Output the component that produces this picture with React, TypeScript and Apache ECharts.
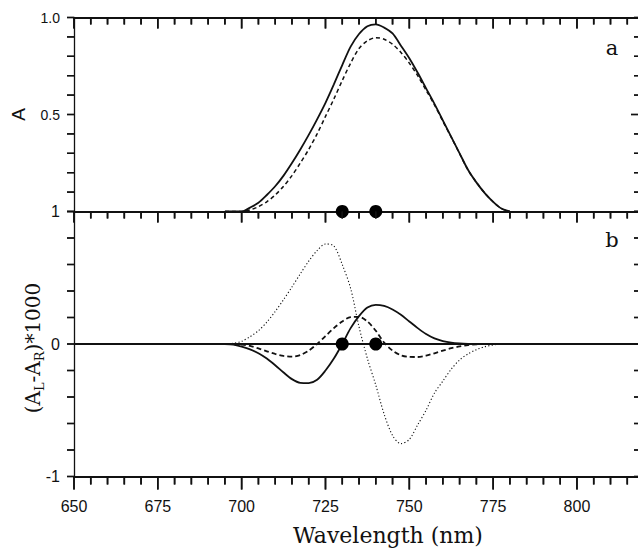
import React, { useEffect, useRef } from "react";
import * as echarts from "echarts";

// Wavelength sampling (nm)
const wavelengths = [
  695, 697.5, 700, 702.5, 705, 707.5, 710, 712.5, 715, 717.5, 720, 722.5, 725, 727.5,
  730, 732.5, 735, 737.5, 740, 742.5, 745, 747.5, 750, 752.5, 755, 757.5, 760, 762.5,
  765, 767.5, 770, 772.5, 775, 777.5, 780,
];

// Panel a: absorbance
const absSolid = [
  0, 0, 0, 0.02, 0.045, 0.085, 0.13, 0.185, 0.25, 0.32, 0.395, 0.475, 0.56, 0.655, 0.755,
  0.85, 0.915, 0.955, 0.965, 0.948, 0.918, 0.855, 0.79, 0.715, 0.635, 0.555, 0.47, 0.385,
  0.3, 0.215, 0.15, 0.095, 0.05, 0.015, 0,
];
const absDashed = [
  0, 0, 0, 0.008, 0.025, 0.05, 0.085, 0.13, 0.185, 0.25, 0.32, 0.4, 0.49, 0.58, 0.675,
  0.765, 0.84, 0.88, 0.896, 0.888, 0.862, 0.82, 0.765, 0.7, 0.625, 0.55, 0.465, 0.383,
  0.298, 0.214, 0.15, 0.095, 0.05, 0.015, 0,
];

// Panel b: (AL-AR)*1000
const cdSolid = [
  0, -0.005, -0.02, -0.04, -0.07, -0.11, -0.16, -0.215, -0.265, -0.293, -0.295, -0.27,
  -0.2, -0.11, 0, 0.12, 0.21, 0.275, 0.296, 0.287, 0.26, 0.22, 0.17, 0.12, 0.075, 0.042,
  0.022, 0.01, 0.004, 0.001, 0, 0, 0, 0, 0,
];
const cdDashed = [
  0, 0, -0.005, -0.015, -0.033, -0.055, -0.075, -0.09, -0.095, -0.083, -0.05, 0, 0.06,
  0.12, 0.17, 0.203, 0.205, 0.17, 0.1, 0.01, -0.05, -0.085, -0.097, -0.098, -0.088, -0.07,
  -0.05, -0.032, -0.018, -0.008, -0.003, 0, 0, 0, 0,
];
const cdDotted = [
  0, 0.005, 0.02, 0.055, 0.1, 0.165, 0.245, 0.335, 0.43, 0.53, 0.625, 0.705, 0.755, 0.74,
  0.6, 0.42, 0.13, -0.11, -0.31, -0.53, -0.69, -0.752, -0.72, -0.61, -0.5, -0.37, -0.28,
  -0.19, -0.12, -0.075, -0.043, -0.02, -0.008, 0, 0,
];

// Marker dots
const markerWavelengths = [730, 740];
const markerValues = [0, 0];

// Axis ranges / ticks
const X_MIN = 650;
const X_MAX = 818.5;
const xTicks = [
  650, 655, 660, 665, 670, 675, 680, 685, 690, 695, 700, 705, 710, 715, 720, 725, 730, 735,
  740, 745, 750, 755, 760, 765, 770, 775, 780, 785, 790, 795, 800, 805, 810, 815,
];
const xLabelEvery = 25;
const panelATicks = [0, 0.1, 0.2, 0.3, 0.4, 0.5, 0.6, 0.7, 0.8, 0.9, 1];
const panelBTicks = [-1, -0.8, -0.6, -0.4, -0.2, 0, 0.2, 0.4, 0.6, 0.8, 1];
const panelALabels: Record<string, string> = { "1": "1.0", "0.5": "0.5" };
const panelBLabels: Record<string, string> = { "1": "1", "0": "0", "-1": "-1" };

const INK = "#111";
const sans = "'Liberation Sans', Arial, sans-serif";
const serif = "'DejaVu Serif', 'Liberation Serif', serif";

// Grid geometry
const PLOT_LEFT = 74;
const PLOT_WIDTH = 565;
const A_TOP = 17.5;
const A_H = 194;
const B_TOP = 211.5;
const B_H = 265;

const pairs = (ys: number[]) => wavelengths.map((w, i) => [w, ys[i]]);
const markerPairs = () => markerWavelengths.map((w, i) => [w, markerValues[i]]);

const xFormatter = (v: number) =>
  Math.abs(v % xLabelEvery) < 1e-6 && v <= 800 ? String(Math.round(v)) : "";
const yLabel = (labels: Record<string, string>) => (v: number) =>
  labels[String(Math.round(v * 10) / 10)] ?? "";
const isMajorX = (w: number) => Math.abs(w % xLabelEvery) < 1e-6;

const hidden = { show: false };
const xLine = { show: true, onZero: false, lineStyle: { color: INK, width: 2.2 } };
const yLine = { show: true, onZero: false, lineStyle: { color: INK, width: 1.3 } };

// Tick marks as scatter symbols (thin rectangles) placed through the axes' scales
function tickSeries(
  xAxisIndex: number,
  yAxisIndex: number,
  items: { value: number[]; size: number[]; offset: number[] }[]
) {
  return {
    type: "scatter",
    xAxisIndex,
    yAxisIndex,
    silent: true,
    clip: false,
    z: 8,
    symbol: "rect",
    itemStyle: { color: INK, opacity: 1 },
    emphasis: { disabled: true },
    data: items.map((it) => ({ value: it.value, symbolSize: it.size, symbolOffset: it.offset })),
  };
}

export default function App() {
  const ref = useRef<HTMLDivElement>(null);

  useEffect(() => {
    if (!ref.current) return;
    const chart = echarts.init(ref.current, undefined, { renderer: "svg" });

    // tick descriptors
    const topA = xTicks.map((w) => {
      const len = isMajorX(w) ? 11 : 7;
      return { value: [w, 1], size: [1.6, len], offset: [0, len / 2] };
    });
    const topB = xTicks.map((w) => {
      const len = isMajorX(w) ? 11 : 7;
      return { value: [w, 1], size: [1.6, len], offset: [0, len / 2] };
    });
    const bottomB = xTicks.map((w) => {
      const len = isMajorX(w) ? 13 : 8;
      return { value: [w, -1], size: [1.6, len], offset: [0, len / 2] };
    });
    const leftA = panelATicks.map((v) => ({ value: [X_MIN, v], size: [7, 1.4], offset: [-3.5, 0] }));
    const rightA = panelATicks.map((v) => {
      const len = Math.abs(v - 0.5) < 1e-6 ? 8 : 5;
      return { value: [X_MAX, v], size: [len, 1.4], offset: [-len / 2, 0] };
    });
    const leftB = panelBTicks.map((v) => ({ value: [X_MIN, v], size: [7, 1.4], offset: [-3.5, 0] }));
    const rightB = panelBTicks.map((v) => ({ value: [X_MAX, v], size: [5, 1.4], offset: [-2.5, 0] }));

    // Same ticks as filled graphic rects (backup rendering path)
    const tickX = (w: number) => PLOT_LEFT + ((w - X_MIN) / (X_MAX - X_MIN)) * PLOT_WIDTH;
    const tickYA = (v: number) => A_TOP + (1 - v) * A_H;
    const tickYB = (v: number) => B_TOP + ((1 - v) / 2) * B_H;
    const rects: any[] = [];
    const rect = (x: number, y: number, width: number, height: number) =>
      rects.push({
        type: "rect",
        silent: true,
        z: 10,
        shape: { x, y, width, height },
        style: { fill: INK },
      });
    xTicks.forEach((w) => {
      const x = tickX(w) - 0.8;
      rect(x, A_TOP, 1.6, isMajorX(w) ? 11 : 7);
      rect(x, B_TOP, 1.6, isMajorX(w) ? 11 : 7);
      rect(x, B_TOP + B_H, 1.6, isMajorX(w) ? 13 : 8);
    });
    panelATicks.forEach((v) => {
      const y = tickYA(v) - 0.7;
      rect(PLOT_LEFT - 7, y, 7, 1.4);
      const len = Math.abs(v - 0.5) < 1e-6 ? 8 : 5;
      rect(PLOT_LEFT + PLOT_WIDTH - len, y, len, 1.4);
    });
    panelBTicks.forEach((v) => {
      const y = tickYB(v) - 0.7;
      rect(PLOT_LEFT - 7, y, 7, 1.4);
      rect(PLOT_LEFT + PLOT_WIDTH - 5, y, 5, 1.4);
    });

    const texts: any[] = [
      {
        type: "text",
        x: 33,
        y: 348,
        rotation: Math.PI / 2,
        style: {
          text: "{n|(A}{s|L}{n|-A}{s|R}{n|)*1000}",
          fill: INK,
          align: "center",
          verticalAlign: "middle",
          rich: {
            n: { fontFamily: serif, fontSize: 20, fill: INK, lineHeight: 26, verticalAlign: "middle" },
            s: { fontFamily: serif, fontSize: 13, fill: INK, lineHeight: 26, verticalAlign: "bottom", padding: [6, 0, 0, 0] },
          },
        },
      },
      {
        type: "text",
        x: 388,
        y: 535,
        style: { text: "Wavelength (nm)", fontFamily: serif, fontSize: 22, fill: INK, align: "center", verticalAlign: "middle" },
      },
      {
        type: "text",
        x: 612,
        y: 48,
        style: { text: "a", fontFamily: serif, fontSize: 21, fill: INK, align: "center", verticalAlign: "middle" },
      },
      {
        type: "text",
        x: 612,
        y: 240,
        style: { text: "b", fontFamily: serif, fontSize: 21, fill: INK, align: "center", verticalAlign: "middle" },
      },
    ];

    const option = {
      animation: false,
      backgroundColor: "#fff",
      grid: [
        { left: PLOT_LEFT, top: A_TOP, width: PLOT_WIDTH, height: A_H, outerBoundsMode: "none", containLabel: false },
        { left: PLOT_LEFT, top: B_TOP, width: PLOT_WIDTH, height: B_H, outerBoundsMode: "none", containLabel: false },
      ],
      xAxis: [
        { type: "value", gridIndex: 0, position: "bottom", min: X_MIN, max: X_MAX, interval: 5, axisLine: xLine, axisTick: hidden, axisLabel: hidden, splitLine: hidden },
        { type: "value", gridIndex: 0, position: "top", min: X_MIN, max: X_MAX, interval: 5, axisLine: xLine, axisTick: hidden, axisLabel: hidden, splitLine: hidden },
        { type: "value", gridIndex: 1, position: "top", min: X_MIN, max: X_MAX, interval: 5, axisLine: xLine, axisTick: hidden, axisLabel: hidden, splitLine: hidden },
        {
          type: "value", gridIndex: 1, position: "bottom", min: X_MIN, max: X_MAX, interval: 5,
          axisLine: xLine, axisTick: hidden,
          axisLabel: { show: true, margin: 22, color: INK, fontFamily: sans, fontSize: 16, formatter: xFormatter },
          splitLine: hidden,
        },
      ],
      yAxis: [
        {
          type: "value", gridIndex: 0, position: "left", min: 0, max: 1, interval: 0.1,
          name: "A", nameLocation: "middle", nameGap: 46, nameRotate: 90,
          nameTextStyle: { fontFamily: sans, fontSize: 19, color: INK },
          axisLine: yLine, axisTick: hidden,
          axisLabel: { show: true, margin: 14, color: INK, fontFamily: sans, fontSize: 14, formatter: yLabel(panelALabels) },
          splitLine: hidden,
        },
        {
          type: "value", gridIndex: 1, position: "left", min: -1, max: 1, interval: 0.2,
          axisLine: yLine, axisTick: hidden,
          axisLabel: { show: true, margin: 14, color: INK, fontFamily: sans, fontSize: 16, formatter: yLabel(panelBLabels) },
          splitLine: hidden,
        },
      ],
      series: [
        {
          name: "A solid", type: "line", xAxisIndex: 0, yAxisIndex: 0, data: pairs(absSolid),
          showSymbol: false, smooth: 0.3, clip: false, lineStyle: { color: INK, width: 1.8 }, z: 3,
        },
        {
          name: "A dashed", type: "line", xAxisIndex: 0, yAxisIndex: 0, data: pairs(absDashed),
          showSymbol: false, smooth: 0.3, clip: false, lineStyle: { color: INK, width: 1.5, type: [4, 3] }, z: 3,
        },
        {
          name: "A markers", type: "scatter", xAxisIndex: 0, yAxisIndex: 0, data: markerPairs(),
          symbolSize: 13, clip: false, itemStyle: { color: "#000", opacity: 1 }, z: 5,
        },
        {
          name: "CD solid", type: "line", xAxisIndex: 2, yAxisIndex: 1, data: pairs(cdSolid),
          showSymbol: false, smooth: 0.3, lineStyle: { color: INK, width: 1.8 },
          markLine: {
            silent: true, symbol: "none", label: { show: false },
            lineStyle: { color: INK, width: 1.8, type: "solid" }, data: [{ yAxis: 0 }],
          },
          z: 3,
        },
        {
          name: "CD dashed", type: "line", xAxisIndex: 2, yAxisIndex: 1, data: pairs(cdDashed),
          showSymbol: false, smooth: 0.3, lineStyle: { color: INK, width: 1.8, type: [5, 3] }, z: 3,
        },
        {
          name: "CD dotted", type: "line", xAxisIndex: 2, yAxisIndex: 1, data: pairs(cdDotted),
          showSymbol: false, smooth: 0.3, lineStyle: { color: INK, width: 1.1, type: [1.2, 2.2] }, z: 3,
        },
        {
          name: "CD markers", type: "scatter", xAxisIndex: 2, yAxisIndex: 1, data: markerPairs(),
          symbolSize: 13, clip: false, itemStyle: { color: "#000", opacity: 1 }, z: 5,
        },
        tickSeries(0, 0, [...topA, ...leftA, ...rightA]),
        tickSeries(2, 1, [...topB, ...bottomB, ...leftB, ...rightB]),
      ],
      graphic: [...texts, ...rects],
    };

    chart.setOption(option as any);
    return () => chart.dispose();
  }, []);

  return (
    <div
      ref={ref}
      style={{ position: "fixed", left: 0, top: 0, width: 638, height: 550, background: "#fff" }}
    />
  );
}
